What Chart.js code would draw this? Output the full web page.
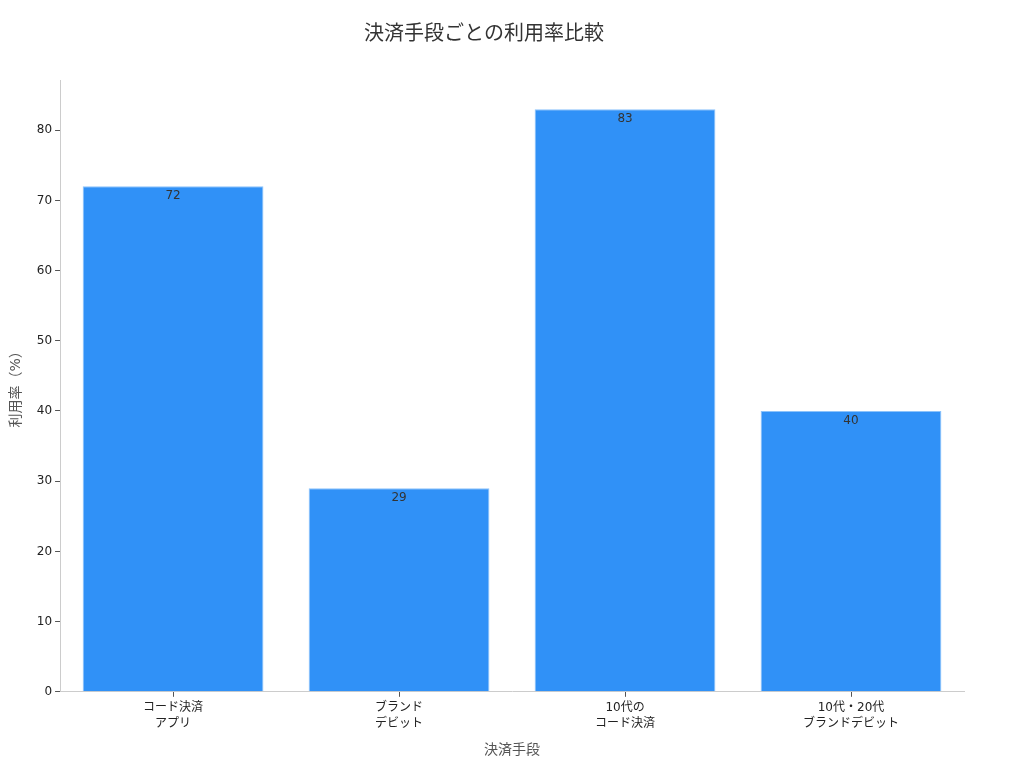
<!DOCTYPE html>
<html lang="ja">
<head>
<meta charset="utf-8">
<title>決済手段ごとの利用率比較</title>
<script src="https://cdn.jsdelivr.net/npm/chart.js@4/dist/chart.umd.min.js"></script>
<style>
    html, body { margin: 0; padding: 0; background: #fff; }
    #wrap { width: 1024px; height: 768px; }
</style>
</head>
<body>
<div id="wrap"><canvas id="usageChart" width="1024" height="768"></canvas></div>
<script>
const categories = [
    ['コード決済', 'アプリ'],
    ['ブランド', 'デビット'],
    ['10代の', 'コード決済'],
    ['10代・20代', 'ブランドデビット'],
];
const usageRates = [72, 29, 83, 40];
const yTicks = [0, 10, 20, 30, 40, 50, 60, 70, 80];

const fontFamily = '"DejaVu Sans", "Noto Sans CJK JP", sans-serif';
const barColor = '#3091f7';

// draws the value just under the top edge of each bar
const barValueLabels = {
    id: 'barValueLabels',
    afterDatasetsDraw(chart) {
        const { ctx } = chart;
        const meta = chart.getDatasetMeta(0);
        ctx.save();
        ctx.font = `12px ${fontFamily}`;
        ctx.fillStyle = '#333333';
        ctx.textAlign = 'center';
        ctx.textBaseline = 'top';
        meta.data.forEach((bar, i) => {
            ctx.fillText(String(usageRates[i]), bar.x, bar.y + 4);
        });
        ctx.restore();
    },
};

new Chart(document.getElementById('usageChart'), {
    type: 'bar',
    data: {
        labels: categories,
        datasets: [{
            label: '利用率',
            data: usageRates,
            backgroundColor: barColor,
            borderColor: '#8cc3fb',
            borderWidth: 1,
            barPercentage: 0.8,
            categoryPercentage: 1.0,
        }],
    },
    options: {
        responsive: false,
        animation: false,
        devicePixelRatio: 1,
        layout: {
            padding: { top: 10, right: 60, bottom: 5, left: 4 },
        },
        plugins: {
            legend: { display: false },
            tooltip: { enabled: false },
            title: {
                display: true,
                text: '決済手段ごとの利用率比較',
                color: '#333333',
                font: { family: fontFamily, size: 20, weight: 'normal' },
                padding: { top: 13, bottom: 33 },
            },
        },
        scales: {
            x: {
                grid: {
                    display: true,
                    offset: false,
                    drawOnChartArea: false,
                    drawTicks: true,
                    tickLength: 5,
                    color: '#555555',
                },
                border: { color: '#cccccc' },
                ticks: {
                    color: '#222222',
                    font: { family: fontFamily, size: 12, lineHeight: 1.35 },
                    padding: 3,
                    maxRotation: 0,
                },
                title: {
                    display: true,
                    text: '決済手段',
                    color: '#555555',
                    font: { family: fontFamily, size: 14 },
                    padding: { top: 7 },
                },
            },
            y: {
                min: 0,
                max: 87.15,
                afterBuildTicks(scale) {
                    scale.ticks = yTicks.map((v) => ({ value: v }));
                },
                grid: {
                    display: true,
                    drawOnChartArea: false,
                    drawTicks: true,
                    tickLength: 5,
                    color: '#555555',
                },
                border: { color: '#cccccc' },
                ticks: {
                    color: '#222222',
                    font: { family: fontFamily, size: 12 },
                    padding: 3,
                },
                title: {
                    display: true,
                    text: '利用率（%）',
                    color: '#555555',
                    font: { family: fontFamily, size: 14 },
                    padding: { bottom: 9 },
                },
            },
        },
    },
    plugins: [barValueLabels],
});
</script>
</body>
</html>
